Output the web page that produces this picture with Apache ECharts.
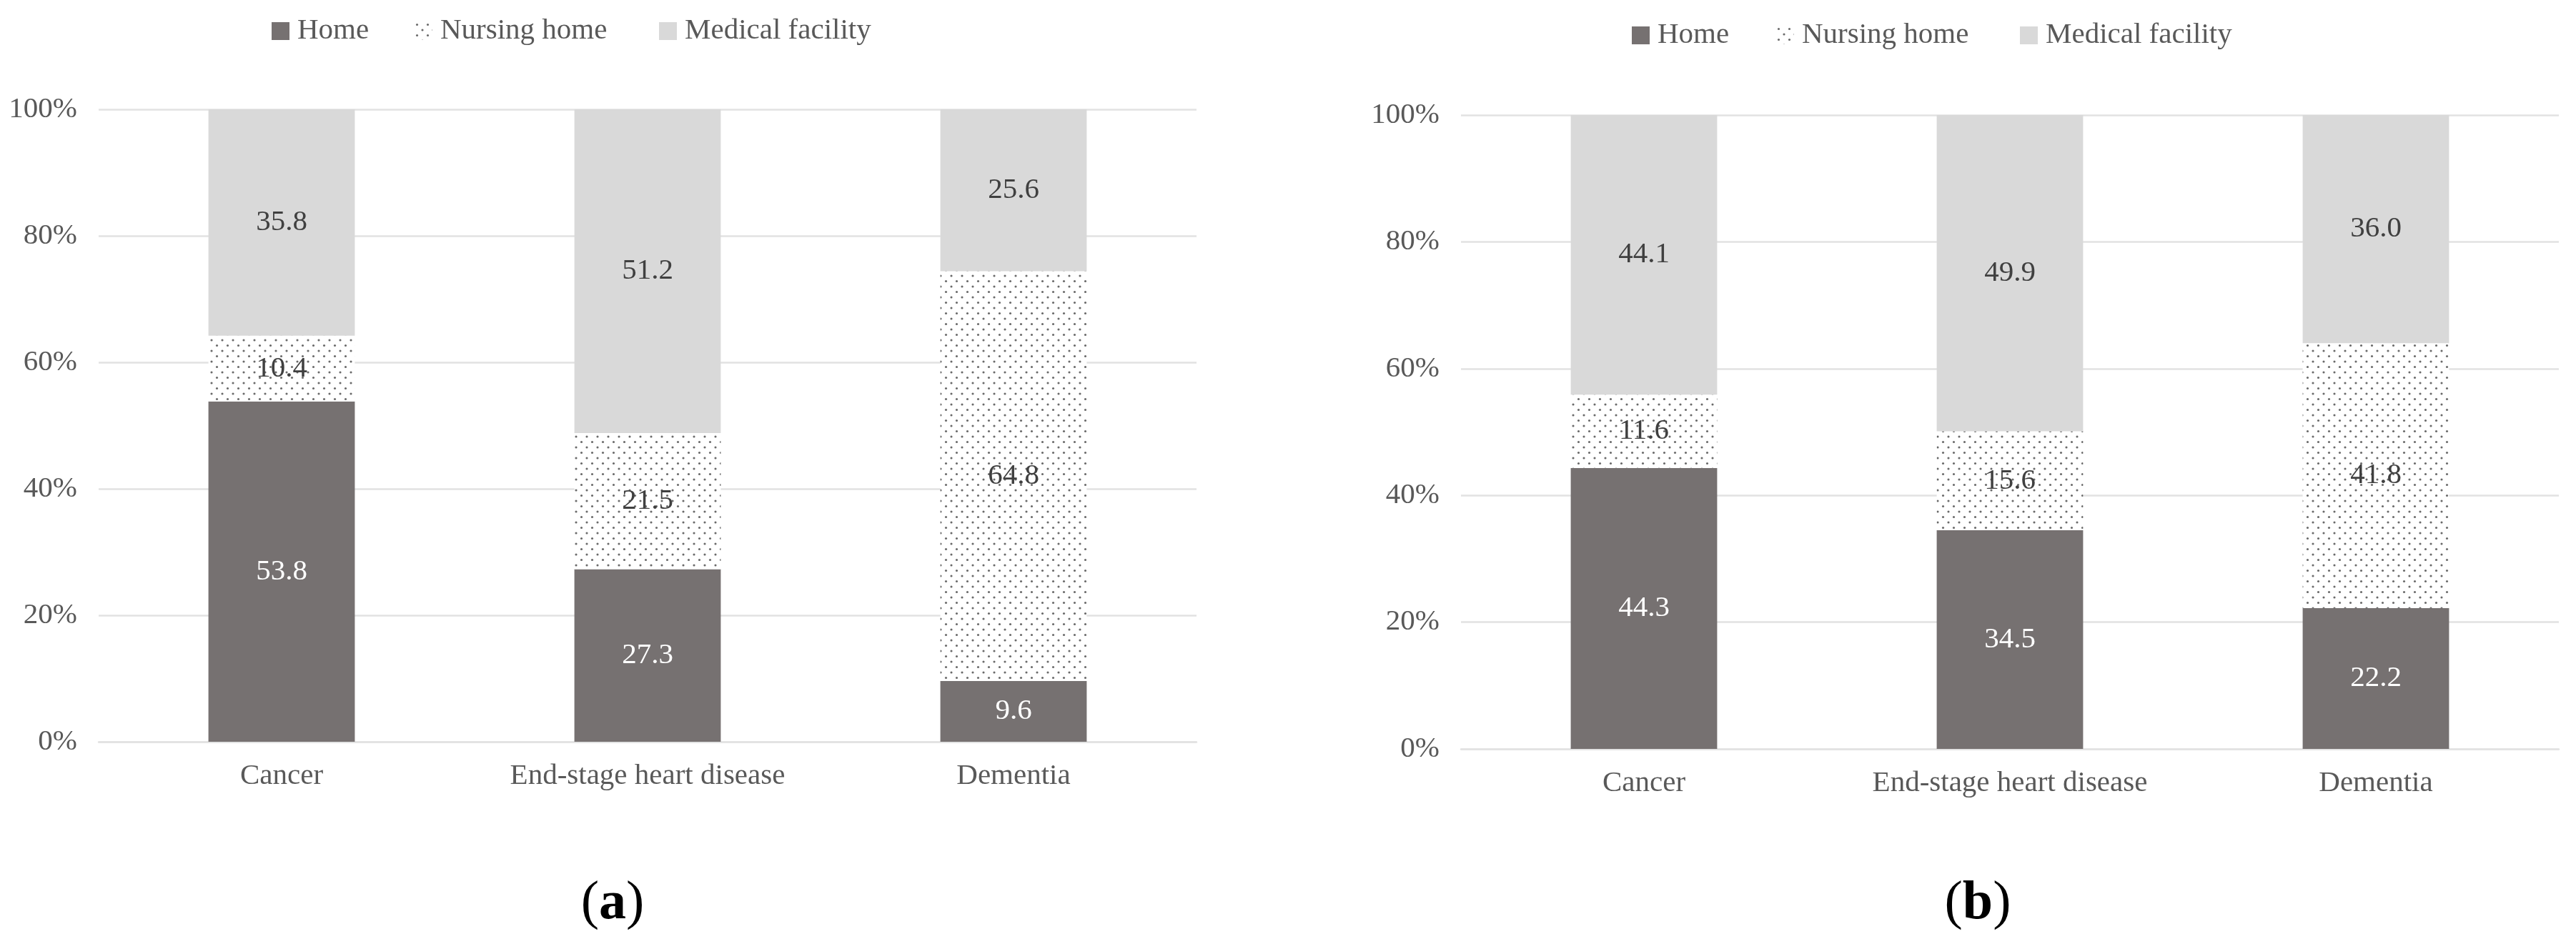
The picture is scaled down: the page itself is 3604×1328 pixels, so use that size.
<!DOCTYPE html>
<html>
<head>
<meta charset="utf-8">
<script src="https://cdn.jsdelivr.net/npm/echarts@6/dist/echarts.min.js"></script>
<style>
html,body{margin:0;padding:0;background:#fff;}
#c{width:3604px;height:1328px;}
</style>
</head>
<body>
<div id="c"></div>
<script>
var categories = ['Cancer', 'End-stage heart disease', 'Dementia'];
var seriesNames = ['Home', 'Nursing home', 'Medical facility'];
var homeA = [53.8, 27.3, 9.6];
var nursingA = [10.4, 21.5, 64.8];
var medicalA = [35.8, 51.2, 25.6];
var homeB = [44.3, 34.5, 22.2];
var nursingB = [11.6, 15.6, 41.8];
var medicalB = [44.1, 49.9, 36.0];
var yTicks = [0, 20, 40, 60, 80, 100];
var panelLabels = ['a', 'b'];

var FONT = '"Liberation Serif", "DejaVu Serif", serif';
var FS = 41;

// dotted pattern for "Nursing home"
var pc = document.createElement('canvas');
pc.width = 15; pc.height = 15;
var pctx = pc.getContext('2d');
pctx.fillStyle = '#ffffff';
pctx.fillRect(0, 0, 15, 15);
pctx.fillStyle = '#6a6a6a';
[[3.5, 3.5], [11, 11]].forEach(function (p) {
  pctx.beginPath(); pctx.arc(p[0], p[1], 1.55, 0, Math.PI * 2); pctx.fill();
});
var dotPattern = { image: pc, repeat: 'repeat' };

var colors = ['#767171', dotPattern, '#d9d9d9'];
var labelColors = ['#ffffff', '#404040', '#404040'];

var grids = [
  { left: 138, top: 153, width: 1536, height: 885 },
  { left: 2044, top: 161, width: 1536, height: 887 }
];

var xAxes = [], yAxes = [], series = [], legends = [];
var dataSets = [[homeA, nursingA, medicalA], [homeB, nursingB, medicalB]];

grids.forEach(function (g, gi) {
  xAxes.push({
    type: 'category', gridIndex: gi, data: categories,
    axisLine: { show: true, lineStyle: { color: '#e2e2e2', width: 2.5 } },
    axisTick: { show: false },
    axisLabel: { color: '#595959', fontFamily: FONT, fontSize: FS, margin: 28 }
  });
  yAxes.push({
    type: 'value', gridIndex: gi, min: 0, max: 100, interval: 20,
    axisLine: { show: false }, axisTick: { show: false },
    splitLine: { lineStyle: { color: '#e2e2e2', width: 2.5 } },
    axisLabel: {
      color: '#595959', fontFamily: FONT, fontSize: FS, margin: 30,
      formatter: function (v) { return yTicks.indexOf(v) >= 0 ? v + '%' : ''; }
    }
  });
  seriesNames.forEach(function (nm, si) {
    series.push({
      type: 'bar', name: nm, xAxisIndex: gi, yAxisIndex: gi, stack: 'p' + gi,
      barWidth: '40%',
      data: dataSets[gi][si],
      itemStyle: { color: colors[si] },
      label: {
        show: true, position: 'inside', color: labelColors[si],
        fontFamily: FONT, fontSize: FS,
        formatter: function (p) { return p.value.toFixed(1); }
      },
      emphasis: { disabled: true }
    });
  });
});

var legendPos = [
  [{ left: 375, top: 18 }, { left: 575, top: 18 }, { left: 917, top: 18 }],
  [{ left: 2278, top: 24 }, { left: 2480, top: 24 }, { left: 2821, top: 24 }]
];
legendPos.forEach(function (row) {
  row.forEach(function (pos, si) {
    legends.push({
      left: pos.left, top: pos.top, orient: 'horizontal',
      data: [seriesNames[si]], itemWidth: 25, itemHeight: 25,
      selectedMode: false,
      icon: 'rect',
      textStyle: { color: '#595959', fontFamily: FONT, fontSize: FS, padding: [0, 0, 0, 6] }
    });
  });
});

var graphics = [
  { cx: 857, cy: 1265 },
  { cx: 2767, cy: 1265 }
].map(function (p, i) {
  return {
    type: 'text', x: p.cx, y: p.cy,
    style: {
      text: '{p|(}{b|' + panelLabels[i] + '}{p|)}',
      align: 'center', verticalAlign: 'middle',
      rich: {
        p: { fontFamily: '"Liberation Serif", serif', fontSize: 76, fill: '#000' },
        b: { fontFamily: '"Liberation Serif", serif', fontSize: 76, fontWeight: 'bold', fill: '#000' }
      }
    }
  };
});

var chart = echarts.init(document.getElementById('c'), null, { renderer: 'canvas' });
chart.setOption({
  animation: false,
  backgroundColor: '#ffffff',
  grid: grids,
  xAxis: xAxes,
  yAxis: yAxes,
  legend: legends,
  series: series,
  graphic: graphics
});
</script>
</body>
</html>
